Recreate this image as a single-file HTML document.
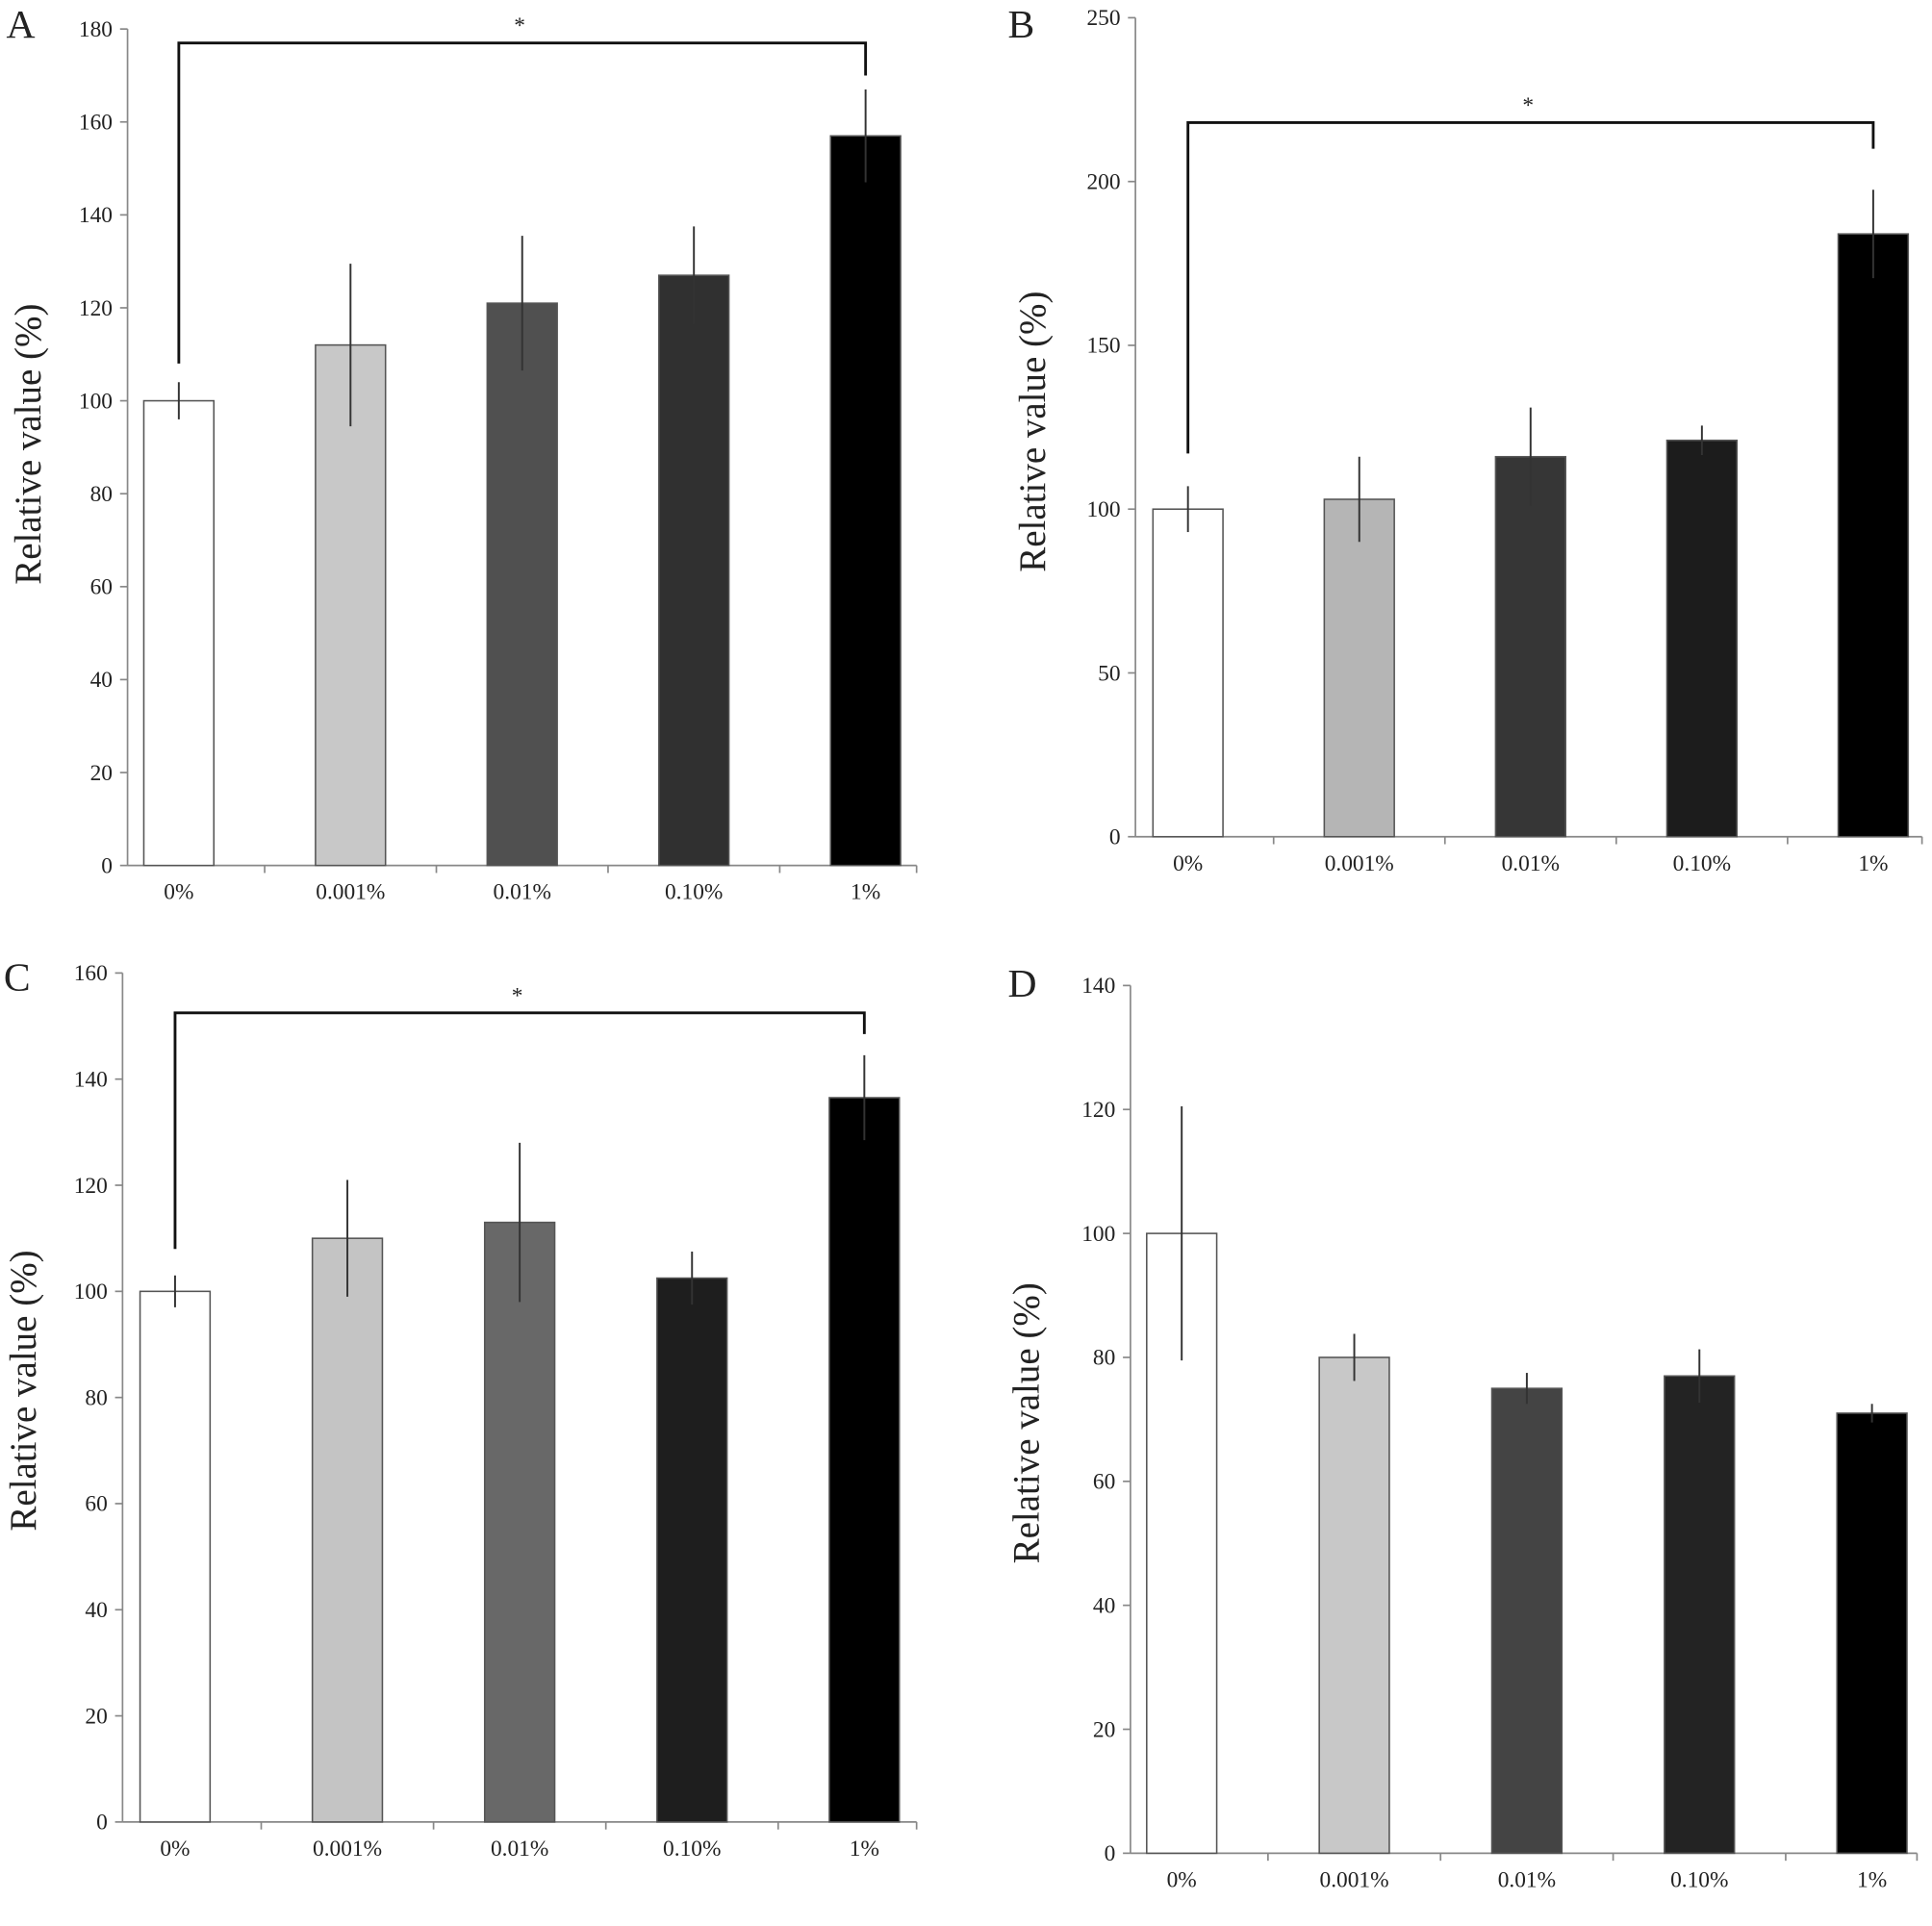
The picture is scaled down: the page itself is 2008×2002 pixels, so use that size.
<!DOCTYPE html>
<html><head><meta charset="utf-8"><style>
html,body{margin:0;padding:0;background:#fff;}
svg{display:block;}
text{font-family:"Liberation Serif","DejaVu Serif",serif;fill:#222;}
</style></head><body>
<svg id="fig" width="2008" height="2002" viewBox="0 0 1545 1540" xmlns="http://www.w3.org/2000/svg"></svg>
<script>
const categories = ["0%","0.001%","0.01%","0.10%","1%"];
const valuesA = [100,112,121,127,157];
const errorsA = [4,17.5,14.5,10.5,10];
const ticksA = [0,20,40,60,80,100,120,140,160,180];
const valuesB = [100,103,116,121,184];
const errorsB = [7,13,15,4.5,13.5];
const ticksB = [0,50,100,150,200,250];
const valuesC = [100,110,113,102.5,136.5];
const errorsC = [3,11,15,5,8];
const ticksC = [0,20,40,60,80,100,120,140,160];
const valuesD = [100,80,75,77,71];
const errorsD = [20.5,3.8,2.5,4.3,1.5];
const ticksD = [0,20,40,60,80,100,120,140];

const NS = "http://www.w3.org/2000/svg";
const svg = document.getElementById('fig');
function mk(tag, attrs, parent){
  const e = document.createElementNS(NS, tag);
  for (const k in attrs) e.setAttribute(k, attrs[k]);
  (parent||svg).appendChild(e);
  return e;
}

const panels = [
  {id:'a', letter:'A', lx:5, ly:30, x0:102, x1:733, y0:692, yTop:23, max:180, c0:143, step:137.3,
   vals:valuesA, errs:errorsA, ticks:ticksA, colors:['#fff','#c8c8c8','#505050','#303030','#000'],
   titleX:22, titleY:355, bracket:{y:177, l:108, r:170}},
  {id:'b', letter:'B', lx:806, ly:30, x0:908, x1:1537, y0:669, yTop:14, max:250, c0:950, step:137,
   vals:valuesB, errs:errorsB, ticks:ticksB, colors:['#fff','#b5b5b5','#363636','#1c1c1c','#000'],
   titleX:825, titleY:345, bracket:{y:218, l:117, r:210}},
  {id:'c', letter:'C', lx:3, ly:792, x0:98, x1:733, y0:1457, yTop:778, max:160, c0:140, step:137.8,
   vals:valuesC, errs:errorsC, ticks:ticksC, colors:['#fff','#c4c4c4','#686868','#1e1e1e','#000'],
   titleX:18, titleY:1112, bracket:{y:152.5, l:108, r:148.5}},
  {id:'d', letter:'D', lx:806, ly:797, x0:904, x1:1533, y0:1482, yTop:788, max:140, c0:945, step:138,
   vals:valuesD, errs:errorsD, ticks:ticksD, colors:['#fff','#c8c8c8','#444','#232323','#000'],
   titleX:820, titleY:1138, bracket:null}
];

panels.forEach(p => {
  const g = mk('g', {});
  
  
  const yS = v => p.y0 - (v / p.max) * (p.y0 - p.yTop);
  const xS = i => p.c0 + i * p.step;
  const letter = mk('text', {x:p.lx, y:p.ly, 'font-size':32}, g);
  letter.textContent = p.letter;
  
  
  // axes
  const ya = mk('line', {x1:p.x0, y1:p.y0, x2:p.x0, y2:p.yTop, stroke:'#888', 'stroke-width':1.3}, g);
  
  
  const xa = mk('line', {x1:p.x0, y1:p.y0, x2:p.x1, y2:p.y0, stroke:'#888', 'stroke-width':1.3}, g);
  
  
  p.ticks.forEach(t => {
    const y = yS(t);
    mk('line', {x1:p.x0-6, y1:y, x2:p.x0, y2:y, stroke:'#888', 'stroke-width':1.3}, g);
    const tl = mk('text', {x:p.x0-12, y:y+6, 'font-size':18, 'text-anchor':'end'}, g);
    tl.textContent = t;
    
    
  });
  // x ticks between categories
  for (let i = 0; i < categories.length; i++) {
    const xt = (i === 0) ? p.x0 + (xS(0) - p.x0) * 2.65 : xS(i) + p.step / 2;
    const tx = i === categories.length - 1 ? p.x1 : xS(i) + p.step / 2;
    mk('line', {x1:tx, y1:p.y0, x2:tx, y2:p.y0+6, stroke:'#888', 'stroke-width':1.3}, g);
  }
  const title = mk('text', {x:p.titleX, y:p.titleY, 'font-size':30, 'text-anchor':'middle',
    transform:`rotate(-90 ${p.titleX} ${p.titleY})`, dy:'0.35em'}, g);
  title.textContent = 'Relative value (%)';
  
  
  // bars
  p.vals.forEach((v, i) => {
    const cx = xS(i), w = 56;
    const bar = mk('rect', {x:cx - w/2, y:yS(v), width:w, height:p.y0 - yS(v),
      fill:p.colors[i], stroke:'#555', 'stroke-width':1.2}, g);
    
    
    const eb = mk('line', {x1:cx, y1:yS(v + p.errs[i]), x2:cx, y2:yS(v - p.errs[i]),
      stroke:'#333', 'stroke-width':1.5}, g);
    
    
    const cl = mk('text', {x:cx, y:p.y0 + 27, 'font-size':18, 'text-anchor':'middle'}, g);
    cl.textContent = categories[i];
    
    
  });
  if (p.bracket) {
    const b = p.bracket, xl = xS(0), xr = xS(4);
    const br = mk('path', {d:`M${xl} ${yS(b.l)} V${yS(b.y)} H${xr} V${yS(b.r)}`, fill:'none',
      stroke:'#111', 'stroke-width':2.2}, g);
    
    
    const st = mk('text', {x:(xl + xr) / 2 - 2, y:yS(b.y) - 8, 'font-size':18, 'text-anchor':'middle'}, g);
    st.textContent = '*';
    
    
  }
});
</script>
</body></html>
